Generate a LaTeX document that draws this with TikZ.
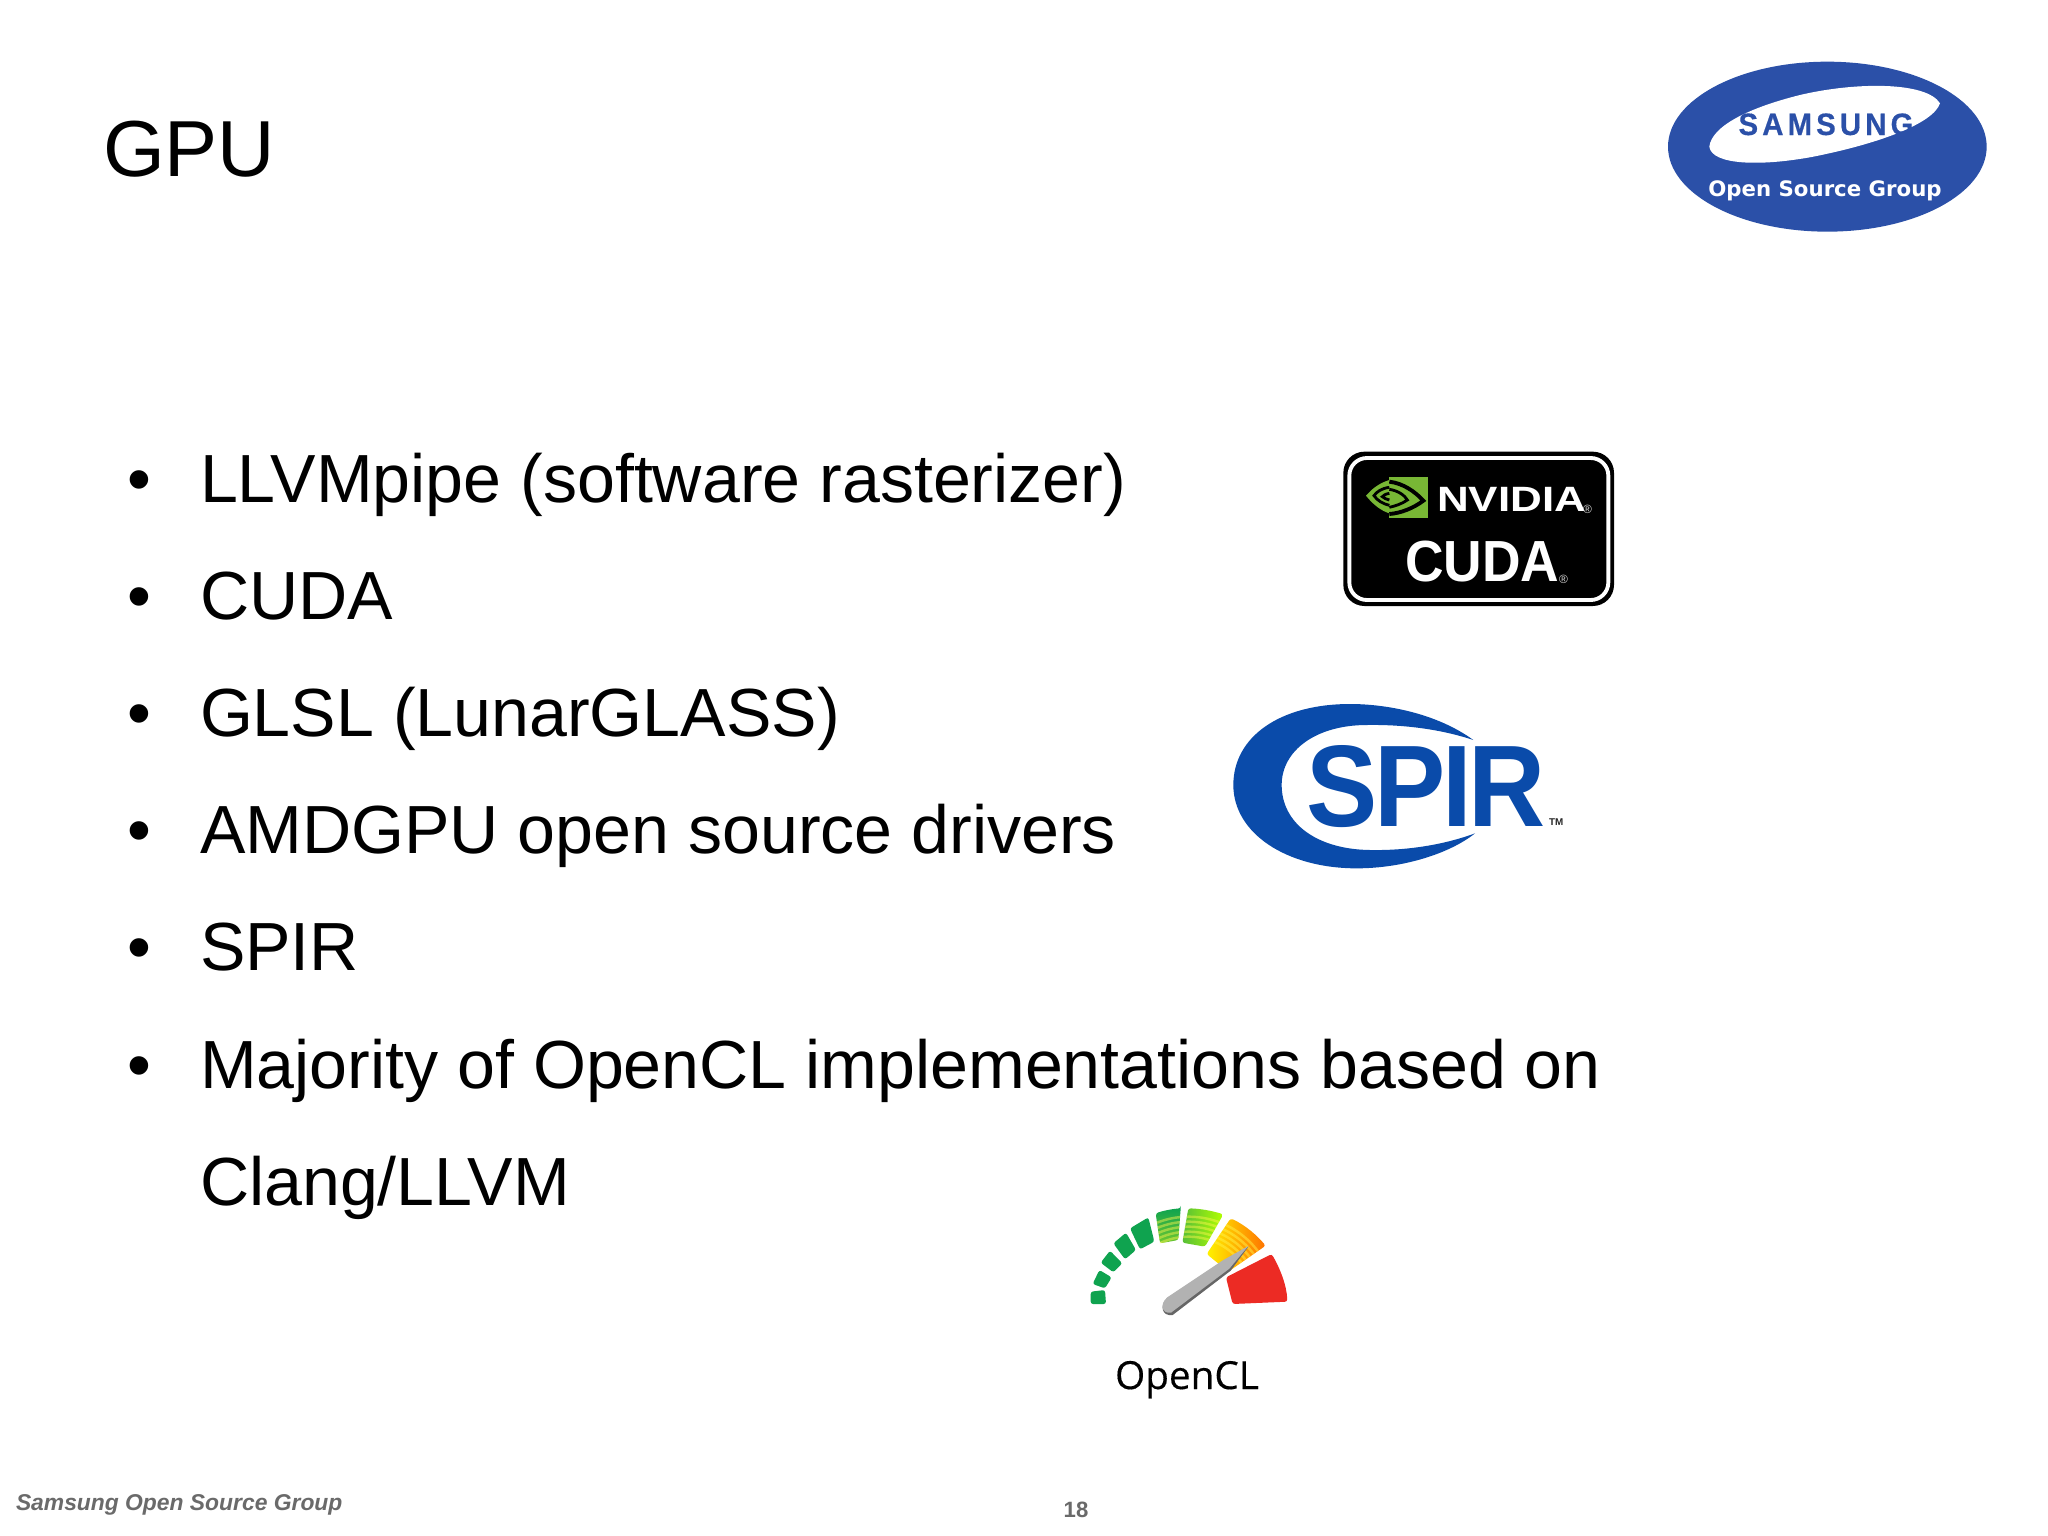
\documentclass[tikz,border=0pt]{standalone}
\usepackage{fontspec}
\setmainfont{Liberation Sans}
\newfontfamily\spirfont[LetterSpace=-3]{Liberation Sans}
\newfontfamily\smsgfont[LetterSpace=14,FakeBold=0.5]{Liberation Sans}
\newfontfamily\vrdfont{DejaVu Sans}
\newfontfamily\oclfont[FakeBold=0.35]{Open Sans}
\definecolor{smsgblue}{HTML}{2B50A8}
\definecolor{spirblue}{HTML}{0A4BAA}
\definecolor{nvgreen}{HTML}{78B735}
\definecolor{gaugegreen}{HTML}{0FA34F}
\definecolor{gaugered}{HTML}{EC2B24}
\definecolor{footgray}{HTML}{6A6A6A}
\tikzset{
  txt/.style={inner sep=0pt,outer sep=0pt,anchor=base west},
  bodytxt/.style={txt,font=\fontsize{19.37}{22}\selectfont},
  seg/.style={rounded corners=0.7pt,draw=none}
}
\begin{document}
\begin{tikzpicture}[x=0.01cm,y=-0.01cm]
\useasboundingbox[fill=white] (0,0) rectangle (2048,1536);
\node[txt,font=\fontsize{22.6}{26}\selectfont] (title) at (103,176) {GPU};
\foreach \y/\1 in %
{502/{LLVMpipe (software rasterizer)},619/CUDA,736/{GLSL (LunarGLASS)},853/{AMDGPU open source drivers},970/SPIR,1088/{Majority of OpenCL implementations based on}} {
   \node[bodytxt] (bullet\y) at (127,\y) {\textbullet};
   \node[bodytxt] (item\y) at (200,\y) {\1};
}
\node[bodytxt] (itemlast) at (200,1205) {Clang/LLVM};
% samsung logo
\begin{scope}[shift={(1640,40)},scale=1/3]
\fill[smsgblue] (562,320) ellipse [x radius=478,y radius=255];
\fill[white] (208,320) .. controls (215,260) and (320,205) .. (480,165) .. controls (650,125) and (860,125) .. (900,190) .. controls (880,250) and (720,310) .. (520,350) .. controls (360,380) and (215,375) .. (208,320) -- cycle;
\end{scope}
\node[txt,anchor=base,xscale=0.95,transform shape,font=\smsgfont\bfseries\fontsize{8.8}{10}\selectfont,text=smsgblue] (samsung) at (1826,135) {SAMSUNG};
\node[txt,anchor=base,font=\vrdfont\bfseries\fontsize{6.05}{8}\selectfont,text=white] (osg) at (1825,196) {Open Source Group};
% cuda logo
\begin{scope}[shift={(1320,430)},scale=1/3]
\fill[black,rounded corners=6pt] (70,65) rectangle (882,528);
\draw[white,line width=1.1pt,rounded corners=5pt] (88,84) rectangle (865,510);
\fill[nvgreen] (208,140) rectangle (325,265);
\fill[nvgreen] (208,150) .. controls (175,160) and (155,178) .. (138,197) .. controls (160,225) and (185,243) .. (208,250) -- cycle;
\draw[black,line width=0.8pt] (208,172) .. controls (185,175) and (170,185) .. (162,197) .. controls (172,212) and (190,222) .. (208,226);
\draw[black,line width=0.8pt] (208,190) .. controls (195,192) and (190,197) .. (187,200) .. controls (192,205) and (200,208) .. (208,210);
\draw[black,line width=1.1pt] (208,155) .. controls (250,160) and (285,185) .. (310,212) .. controls (280,235) and (240,250) .. (208,252);
\draw[black,line width=0.8pt] (208,178) .. controls (235,182) and (255,197) .. (262,210) .. controls (245,222) and (225,228) .. (208,232);
\end{scope}
\node[txt,xscale=1.25,transform shape,font=\bfseries\fontsize{10}{12}\selectfont,text=white] (nvidia) at (1437,511) {NVIDIA};
\node[txt,font=\fontsize{3.4}{3}\selectfont,text=white!85!black] (nvreg) at (1583,513) {®};
\node[txt,xscale=0.92,transform shape,font=\bfseries\fontsize{16.5}{18}\selectfont,text=white] (cuda) at (1405,581) {CUDA};
\node[txt,font=\fontsize{3.4}{3}\selectfont,text=white!85!black] (cureg) at (1559,583) {®};
% spir logo
\begin{scope}[shift={(1210,690)},scale=1/3]
\fill[spirblue] (790,150) .. controls (680,70) and (530,42) .. (420,42) .. controls (210,42) and (70,140) .. (70,285) .. controls (70,430) and (230,535) .. (440,535) .. controls (580,535) and (720,490) .. (795,430) .. controls (700,465) and (590,482) .. (480,480) .. controls (320,478) and (215,400) .. (215,285) .. controls (215,180) and (320,105) .. (470,105) .. controls (590,103) and (700,120) .. (790,150) -- cycle;
\end{scope}
\node[txt,xscale=0.92,transform shape,font=\spirfont\bfseries\fontsize{33}{36}\selectfont,text=spirblue] (spir) at (1306,826) {SPIR};
\node[txt,font=\bfseries\fontsize{2.8}{3}\selectfont,text=black!85] (spirtm) at (1549,825) {TM};
% opencl logo
\begin{scope}[shift={(1060,1180)},scale=1/3]
\fill[seg,gaugegreen] (92,335) -- (135,330) -- (138,372) -- (92,372) -- cycle;
\fill[seg,gaugegreen] (118,270) -- (155,292) -- (135,325) -- (98,312) -- cycle;
\fill[seg,gaugegreen] (150,212) -- (187,250) -- (160,277) -- (122,248) -- cycle;
\fill[seg,gaugegreen] (198,158) -- (228,210) -- (195,238) -- (160,190) -- cycle;
\fill[seg,gaugegreen] (265,112) -- (283,185) -- (240,208) -- (210,145) -- cycle;
\shade[seg,top color=gaugegreen,bottom color=gaugegreen!60!yellow] (362,85) -- (355,180) -- (300,190) -- (287,100) .. controls (310,92) and (335,87) .. (362,85) -- cycle;
\shade[seg,left color=gaugegreen!70!yellow,right color=yellow!70!green] (385,85) .. controls (420,86) and (455,92) .. (490,103) -- (435,200) -- (367,188) -- cycle;
\shade[seg,left color=yellow!90!orange,right color=orange!90!red] (512,115) .. controls (555,135) and (590,165) .. (617,197) -- (505,275) -- (440,222) -- cycle;
\fill[seg,gaugered] (635,222) .. controls (660,265) and (680,315) .. (682,365) -- (518,372) -- (498,292) -- cycle;
% bands on the upper segments
\begin{scope}
\clip (287,100) -- (362,85) -- (355,180) -- (300,190) -- cycle (385,85) -- (490,103) -- (435,200) -- (367,188) -- cycle (512,115) -- (617,197) -- (505,275) -- (440,222) -- cycle;
\foreach \r in {200,215,230,245,260} {
   \draw[yellow!70!white,opacity=0.45,line width=0.7pt] (386,370) circle [radius=\r];
}
\end{scope}
\fill[black!60] (565,200) -- (512,272) -- (338,405) .. controls (305,410) and (298,375) .. (322,354) -- cycle;
\fill[black!30] (565,198) -- (490,240) -- (322,352) .. controls (298,372) and (305,402) .. (333,398) -- (508,266) -- cycle;
\end{scope}
\node[txt,anchor=base,font=\oclfont\fontsize{11}{13}\selectfont] (opencl) at (1187,1389) {OpenCL};
% footer
\node[txt,font=\bfseries\itshape\fontsize{6.5}{8}\selectfont,text=footgray] (foot) at (16,1510) {Samsung Open Source Group};
\node[txt,anchor=base,font=\bfseries\fontsize{6.3}{8}\selectfont,text=footgray] (page) at (1076,1517) {18};
\end{tikzpicture}
\end{document}
